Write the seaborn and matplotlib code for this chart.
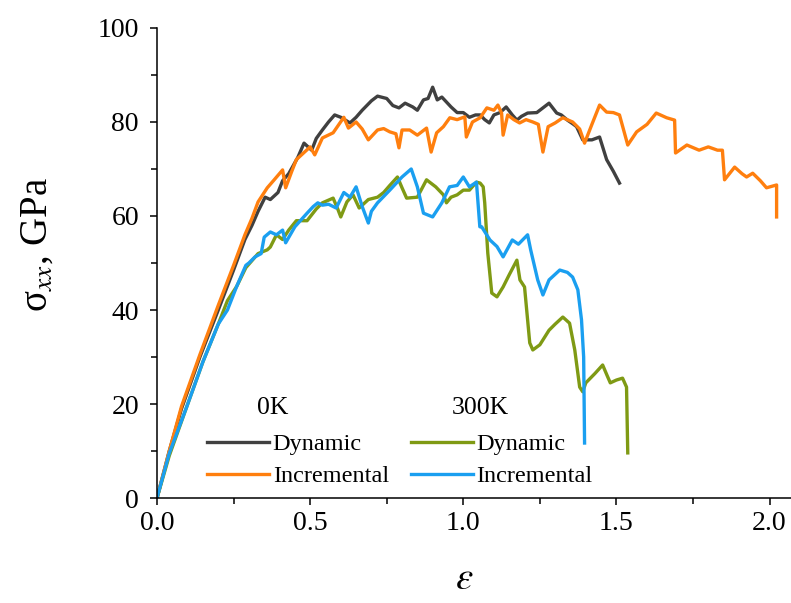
import matplotlib
matplotlib.use("Agg")
import matplotlib.pyplot as plt
import seaborn as sns
import pandas as pd
from matplotlib.ticker import MultipleLocator

# ---- stress-strain data (strain, sigma_xx in GPa) ----
dyn_0k_x = [0, 0.04, 0.08, 0.14, 0.2, 0.25, 0.287, 0.31, 0.33, 0.353, 0.37, 0.395, 0.41, 0.43,
            0.46, 0.48, 0.505, 0.52, 0.54, 0.56, 0.58, 0.60, 0.63, 0.65, 0.67, 0.70, 0.72, 0.75,
            0.77, 0.79, 0.81, 0.835, 0.85, 0.87, 0.885, 0.90, 0.915, 0.93, 0.96, 0.98, 1.0, 1.02,
            1.04, 1.055, 1.07, 1.085, 1.10, 1.12, 1.14, 1.16, 1.175, 1.19, 1.21, 1.24, 1.26, 1.28,
            1.305, 1.32, 1.34, 1.36, 1.37, 1.39, 1.42, 1.445, 1.468, 1.49, 1.51]
dyn_0k_y = [0, 10, 19, 30, 40, 48.5, 55, 58, 61, 64, 63.5, 65, 67.5, 69,
            72.5, 75.5, 74, 76.5, 78.3, 80, 81.5, 81, 79.8, 81, 82.5, 84.5, 85.5, 85,
            83.5, 83, 84, 83.2, 82.5, 84.7, 85, 87.4, 84.7, 85.3, 83.2, 82, 82, 81,
            81.5, 81.5, 80.5, 79.8, 81.5, 82, 83.2, 81.5, 80.4, 81.2, 81.9, 82, 83, 84,
            81.9, 81.5, 80.4, 79.5, 79, 76.2, 76.2, 76.8, 72, 69.5, 67]

inc_0k_x = [0, 0.04, 0.08, 0.14, 0.2, 0.25, 0.287, 0.31, 0.33, 0.36, 0.38, 0.41, 0.42, 0.44,
            0.455, 0.48, 0.50, 0.515, 0.54, 0.575, 0.61, 0.625, 0.65, 0.67, 0.69, 0.72, 0.74,
            0.76, 0.78, 0.79, 0.80, 0.825, 0.85, 0.88, 0.895, 0.913, 0.935, 0.956, 0.98, 1.005,
            1.01, 1.03, 1.055, 1.077, 1.10, 1.113, 1.125, 1.13, 1.145, 1.165, 1.184, 1.205,
            1.227, 1.245, 1.26, 1.277, 1.30, 1.325, 1.357, 1.38, 1.396, 1.42, 1.445, 1.468,
            1.49, 1.51, 1.537, 1.566, 1.60, 1.63, 1.664, 1.69, 1.693, 1.73, 1.77, 1.80, 1.83,
            1.846, 1.853, 1.886, 1.91, 1.925, 1.945, 1.97, 1.99, 2.023, 2.023]
inc_0k_y = [0, 10, 19.5, 30.5, 41, 49.5, 56, 59.5, 63, 66, 67.5, 69.8, 66, 69.5,
            72, 73.5, 74.7, 73, 76.6, 77.7, 81, 78.7, 80, 78.5, 76.2, 78.3, 78.6,
            77.9, 77.5, 74.5, 78.3, 78.3, 77.2, 78.7, 73.6, 77.7, 79, 80.9, 80.5, 81.1,
            76.8, 80, 80.9, 83, 82.5, 83.6, 81.9, 77.2, 81.5, 80.5, 79.8, 80.5,
            80, 79.5, 73.6, 79, 79.8, 80.9, 80, 78.5, 75.5, 79.5, 83.6, 82.1,
            82, 81.5, 75.1, 77.9, 79.5, 81.9, 80.9, 80.4, 73.4, 75.1, 74, 74.7, 74,
            74, 67.7, 70.4, 69, 68.3, 69.1, 67.5, 66, 66.6, 59.8]

dyn_300k_x = [0, 0.04, 0.097, 0.15, 0.2, 0.23, 0.26, 0.29, 0.31, 0.33, 0.36, 0.37, 0.39, 0.41,
              0.43, 0.455, 0.49, 0.52, 0.54, 0.575, 0.59, 0.60, 0.62, 0.64, 0.66, 0.69, 0.72,
              0.74, 0.76, 0.785, 0.80, 0.815, 0.85, 0.88, 0.91, 0.935, 0.945, 0.96, 0.98, 1.00,
              1.02, 1.043, 1.055, 1.065, 1.07, 1.08, 1.093, 1.11, 1.13, 1.15, 1.175, 1.185,
              1.20, 1.217, 1.227, 1.25, 1.28, 1.30, 1.325, 1.347, 1.364, 1.38, 1.39, 1.40,
              1.43, 1.455, 1.47, 1.48, 1.50, 1.52, 1.533, 1.537]
dyn_300k_y = [0, 9, 19.4, 29, 37, 42, 45, 49, 50.5, 52, 52.8, 53.4, 56, 55,
              57, 59, 59, 61.5, 62.8, 63.8, 61.5, 59.8, 63, 64.5, 61.7, 63.5, 64,
              65, 66.5, 68.3, 66, 63.8, 64, 67.7, 66.2, 64.5, 62.8, 64, 64.5, 65.5,
              65.5, 67.2, 67, 66.2, 62.8, 52.1, 43.6, 42.8, 44.9, 47.5, 50.6, 46.4,
              44.9, 33, 31.5, 32.6, 35.7, 37, 38.5, 37.2, 31.5, 23.6, 22.6, 24.5,
              26.5, 28.3, 26, 24.5, 25.1, 25.5, 23.6, 9.6]

inc_300k_x = [0, 0.04, 0.097, 0.15, 0.2, 0.23, 0.26, 0.29, 0.30, 0.32, 0.34, 0.35, 0.37, 0.39,
              0.41, 0.42, 0.45, 0.49, 0.51, 0.525, 0.54, 0.56, 0.585, 0.61, 0.63, 0.65, 0.67,
              0.69, 0.70, 0.72, 0.76, 0.80, 0.83, 0.85, 0.87, 0.90, 0.93, 0.955, 0.98, 1.0,
              1.02, 1.043, 1.054, 1.06, 1.087, 1.11, 1.13, 1.16, 1.18, 1.21, 1.22, 1.243,
              1.26, 1.28, 1.315, 1.34, 1.357, 1.374, 1.386, 1.393, 1.396]
inc_300k_y = [0, 9.5, 19.4, 29, 37, 40, 45, 49.5, 50, 51.3, 52, 55.5, 56.6, 56,
              57, 54.3, 57.7, 60.6, 62, 62.8, 62.3, 62.5, 61.7, 65, 64, 66.2, 62,
              58.5, 61, 62.8, 65.5, 68.3, 70, 66.2, 60.6, 59.8, 62.8, 66.2, 66.5, 68.3,
              66.2, 67.2, 57.7, 57.7, 54.9, 53.5, 51.3, 54.9, 54, 56, 52.8, 46.4,
              43.2, 46.4, 48.5, 48, 47, 44.3, 37.9, 30, 11.7]

series_labels = ["Dynamic", "Incremental", "Dynamic", "Incremental"]
temperatures = ["0K", "300K"]
colors = ["#404040", "#ff7f0e", "#7f9a14", "#1a9ff0"]

plt.rcParams["font.family"] = ["Liberation Serif", "DejaVu Serif"]
plt.rcParams["mathtext.fontset"] = "stix"

fig = plt.figure(figsize=(7.91, 6.03), dpi=100)
ax = fig.add_axes([0.1985, 0.1741, 0.8015, 0.7795])

data = [(dyn_0k_x, dyn_0k_y), (inc_0k_x, inc_0k_y),
        (dyn_300k_x, dyn_300k_y), (inc_300k_x, inc_300k_y)]
handles = []
for (xs, ys), lab, col in zip(data, series_labels, colors):
    df = pd.DataFrame({"strain": xs, "stress": ys})
    sns.lineplot(data=df, x="strain", y="stress", sort=False, estimator=None,
                 color=col, linewidth=2.4, ax=ax)
    handles.append(ax.get_lines()[-1])

ax.set_xlim(0, 2.07)
ax.set_ylim(0, 100)
ax.xaxis.set_major_locator(MultipleLocator(0.5))
ax.xaxis.set_minor_locator(MultipleLocator(0.25))
ax.yaxis.set_major_locator(MultipleLocator(20))
ax.yaxis.set_minor_locator(MultipleLocator(10))
ax.set_xticks([0, 0.5, 1.0, 1.5, 2.0])
ax.set_xticklabels(["0.0", "0.5", "1.0", "1.5", "2.0"])

for side in ["top", "right"]:
    ax.spines[side].set_visible(False)
for side in ["left", "bottom"]:
    ax.spines[side].set_linewidth(1.1)
    ax.spines[side].set_color("black")

ax.tick_params(which="major", direction="out", length=5, width=1.1, labelsize=20)
ax.tick_params(axis="y", which="major", pad=8)
ax.tick_params(axis="x", which="major", pad=4)
ax.tick_params(which="minor", direction="out", length=4, width=1.1)

ax.set_ylabel(r"σ$_{xx}$, GPa", fontsize=28)
ax.yaxis.set_label_coords(-0.16, 0.54)
ax.set_xlabel(r"$\varepsilon$", fontsize=28)
ax.xaxis.set_label_coords(0.484, -0.135)

leg = ax.legend(handles, series_labels, ncol=2, loc="upper left",
                bbox_to_anchor=(0.079, 0.138), frameon=False, fontsize=17.5,
                handlelength=2.55, handletextpad=0.15, columnspacing=0.9,
                labelspacing=0.42, borderpad=0, borderaxespad=0)
ax.text(0.182, 0.191, temperatures[0], transform=ax.transAxes, fontsize=18.5,
        ha="center", va="center")
ax.text(0.51, 0.191, temperatures[1], transform=ax.transAxes, fontsize=18.5,
        ha="center", va="center")

fig.savefig("out.png", dpi=100)
